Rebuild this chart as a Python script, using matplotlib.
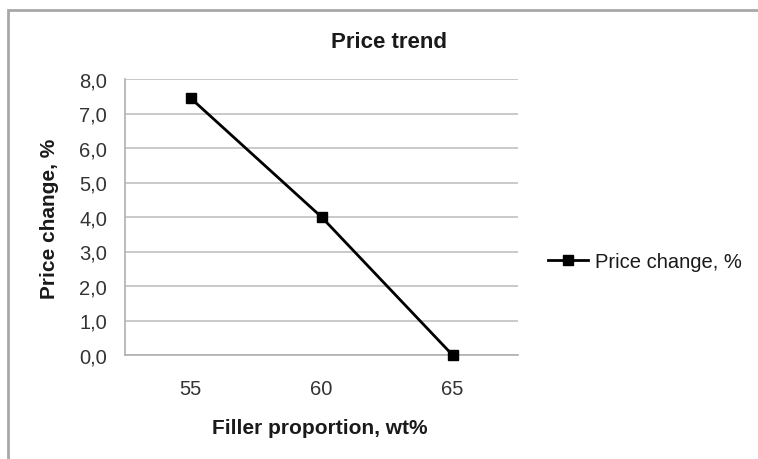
import matplotlib
matplotlib.use("Agg")
import matplotlib.pyplot as plt
from matplotlib.patches import Rectangle
from matplotlib.ticker import FuncFormatter

categories = ["55", "60", "65"]
values = [7.45, 4.0, 0.0]
y_ticks = [0, 1, 2, 3, 4, 5, 6, 7, 8]
series_name = "Price change, %"

plt.rcParams['font.family'] = ['Liberation Sans', 'DejaVu Sans']

W, H = 758, 460
fig = plt.figure(figsize=(W/100, H/100), dpi=100)
fig.patch.set_facecolor('white')
# outer chart frame (partially cropped)
fig.patches.append(Rectangle((8/W, -0.1), 1.2, 1 - 11/H + 0.1,
                             transform=fig.transFigure, fill=False,
                             edgecolor='#a8a8a8', linewidth=2))

ax = fig.add_axes([125/W, 1 - 356/H, (518 - 125)/W, (356 - 80)/H])
x = list(range(len(categories)))
line, = ax.plot(x, values, color='black', linewidth=2, marker='s',
                markersize=7, markerfacecolor='black', markeredgecolor='black',
                label=series_name, clip_on=False, zorder=3)
ax.set_xlim(-0.5, len(categories) - 0.5)
ax.set_ylim(0, 8)
ax.set_xticks(x)
ax.set_xticklabels(categories)
ax.set_yticks(y_ticks)
ax.yaxis.set_major_formatter(FuncFormatter(lambda v, p: f"{v:.1f}".replace('.', ',')))
ax.grid(axis='y', color='#c0c0c0', linewidth=1.2)
ax.set_axisbelow(True)
for s in ['top', 'right']:
    ax.spines[s].set_visible(False)
for s in ['left', 'bottom']:
    ax.spines[s].set_color('#b0b0b0')
    ax.spines[s].set_linewidth(1.2)
ax.tick_params(length=0, labelsize=14.5, colors='#333333')
ax.tick_params(axis='y', pad=13)
ax.tick_params(axis='x', pad=17)

fig.text(320/W, 1 - 434/H, "Filler proportion, wt%", ha='center', va='baseline',
         fontsize=15, fontweight='bold', color='#1a1a1a')
fig.text(50/W, 1 - 219/H, "Price change, %", ha='center', va='center',
         rotation=90, fontsize=15, fontweight='bold', color='#1a1a1a')
fig.text(389/W, 1 - 48/H, "Price trend", ha='center', va='baseline',
         fontsize=16, fontweight='bold', color='#1a1a1a')

fig.legend(handles=[line], loc='center left', bbox_to_anchor=(548/W, 1 - 263/H),
           frameon=False, fontsize=14.5, handlelength=2.0, handletextpad=0.33,
           borderaxespad=0, borderpad=0, labelcolor='#1a1a1a')

fig.savefig("out.png", dpi=100, facecolor='white')
